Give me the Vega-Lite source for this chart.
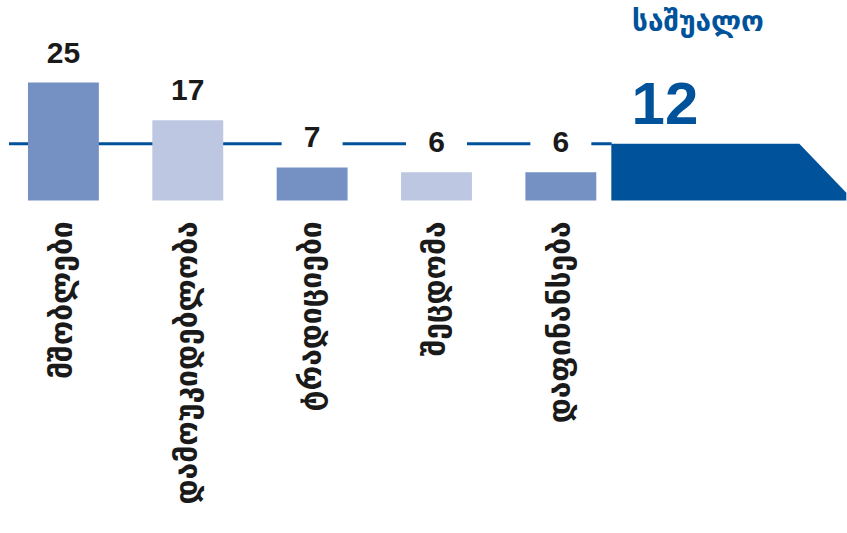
{
  "$schema": "https://vega.github.io/schema/vega-lite/v6.json",
  "width": 847,
  "height": 533,
  "autosize": {"type": "fit", "contains": "padding"},
  "padding": 0,
  "background": "white",
  "config": {"view": {"stroke": null}},
  "datasets": {
    "reasons": [
      {"category": "მშობლები", "value": 25},
      {"category": "დამოუკიდებლობა", "value": 17},
      {"category": "ტრადიციები", "value": 7},
      {"category": "შეცდომა", "value": 6},
      {"category": "დაფინანსება", "value": 6}
    ],
    "average": [{"label": "საშუალო", "value": 12}]
  },
  "layer": [
    {
      "data": {"name": "average"},
      "mark": {"type": "rule", "color": "#00529b", "strokeWidth": 3},
      "encoding": {
        "x": {"datum": 1.06, "type": "quantitative", "scale": {"domain": [0, 100], "nice": false, "zero": false}, "axis": null},
        "x2": {"datum": 72.3},
        "y": {"field": "value", "type": "quantitative", "scale": {"domain": [-70.44, 42.48], "nice": false, "zero": false}, "axis": null}
      }
    },
    {
      "data": {"name": "reasons"},
      "encoding": {
        "x": {"field": "category", "type": "nominal", "sort": null, "axis": null,
              "scale": {"domain": ["მშობლები", "დამოუკიდებლობა", "ტრადიციები", "შეცდომა", "დაფინანსება", "საშუალო"],
                        "paddingInner": 0.43, "paddingOuter": 0.6165, "align": 0.1824}}
      },
      "layer": [
        {
          "mark": {"type": "bar"},
          "encoding": {
            "y": {"field": "value", "type": "quantitative", "scale": {"domain": [-70.44, 42.48], "nice": false, "zero": false}, "axis": null},
            "y2": {"datum": 0},
            "color": {"field": "category", "type": "nominal", "legend": null,
                      "scale": {"domain": ["მშობლები", "დამოუკიდებლობა", "ტრადიციები", "შეცდომა", "დაფინანსება"],
                                "range": ["#7590c3", "#bdc7e2", "#7590c3", "#bdc7e2", "#7590c3"]}}
          }
        },
        {
          "mark": {"type": "bar", "color": "white", "width": {"band": 0.86}},
          "encoding": {
            "y": {"datum": 11, "type": "quantitative", "scale": {"domain": [-70.44, 42.48], "nice": false, "zero": false}, "axis": null},
            "y2": {"datum": 13.2},
            "opacity": {"condition": {"test": "datum.value < 12", "value": 1}, "value": 0}
          }
        },
        {
          "mark": {"type": "text", "dy": -20, "baseline": "alphabetic", "font": "Liberation Sans", "fontWeight": "bold", "fontSize": 30, "color": "#1a1a1a"},
          "encoding": {
            "y": {"field": "value", "type": "quantitative", "scale": {"domain": [-70.44, 42.48], "nice": false, "zero": false}, "axis": null},
            "text": {"field": "value", "type": "quantitative"}
          }
        },
        {
          "mark": {"type": "text", "angle": 270, "align": "right", "baseline": "middle", "font": "DejaVu Sans", "fontWeight": "bold", "fontSize": 30, "color": "#1a1a1a"},
          "encoding": {
            "y": {"datum": -4.4, "type": "quantitative", "scale": {"domain": [-70.44, 42.48], "nice": false, "zero": false}, "axis": null},
            "text": {"field": "category", "type": "nominal"}
          }
        }
      ]
    },
    {
      "data": {"name": "average"},
      "layer": [
        {
          "mark": {"type": "point", "shape": "M0,0 L188,0 L235,49 L235,56.6 L0,56.6 Z", "size": 4, "filled": true, "opacity": 1, "color": "#00529b", "strokeWidth": 0},
          "encoding": {
            "x": {"datum": 72.26, "type": "quantitative", "scale": {"domain": [0, 100], "nice": false, "zero": false}, "axis": null},
            "y": {"field": "value", "type": "quantitative", "scale": {"domain": [-70.44, 42.48], "nice": false, "zero": false}, "axis": null}
          }
        },
        {
          "mark": {"type": "text", "dy": -20, "baseline": "alphabetic", "font": "Liberation Sans", "fontWeight": "bold", "fontSize": 60, "color": "#00529b"},
          "encoding": {
            "x": {"datum": 78.6, "type": "quantitative", "scale": {"domain": [0, 100], "nice": false, "zero": false}, "axis": null},
            "y": {"field": "value", "type": "quantitative", "scale": {"domain": [-70.44, 42.48], "nice": false, "zero": false}, "axis": null},
            "text": {"field": "value", "type": "quantitative"}
          }
        },
        {
          "mark": {"type": "text", "dy": -113, "baseline": "alphabetic", "font": "DejaVu Sans", "fontWeight": "bold", "fontSize": 28, "color": "#00529b"},
          "encoding": {
            "x": {"datum": 82.5, "type": "quantitative", "scale": {"domain": [0, 100], "nice": false, "zero": false}, "axis": null},
            "y": {"field": "value", "type": "quantitative", "scale": {"domain": [-70.44, 42.48], "nice": false, "zero": false}, "axis": null},
            "text": {"field": "label", "type": "nominal"}
          }
        }
      ]
    }
  ],
  "resolve": {"scale": {"x": "independent"}}
}
